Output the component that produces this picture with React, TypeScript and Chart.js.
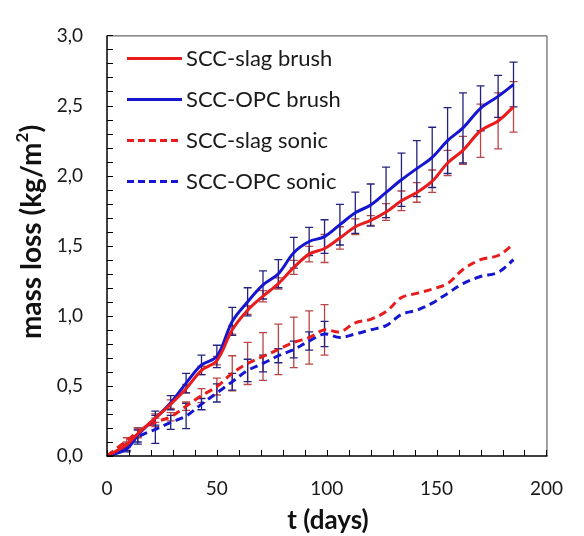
import React, { useEffect, useRef } from 'react';
import { Chart, registerables } from 'chart.js';

Chart.register(...registerables);

const FONT = 'Lato';

// ---- data ----
const days = [0, 9, 14, 22, 29, 36, 43, 50, 57, 64, 71, 78, 85, 92, 99, 106, 113, 120, 127, 134, 141, 148, 155, 162, 170, 178, 185];

const slagBrush = [0, 0.08, 0.16, 0.27, 0.37, 0.48, 0.61, 0.68, 0.9, 1.04, 1.14, 1.23, 1.345, 1.44, 1.48, 1.555, 1.635, 1.68, 1.74, 1.82, 1.88, 1.96, 2.09, 2.18, 2.32, 2.39, 2.49];
const opcBrush = [0, 0.05, 0.15, 0.27, 0.38, 0.52, 0.65, 0.71, 0.96, 1.1, 1.22, 1.3, 1.45, 1.53, 1.565, 1.65, 1.735, 1.79, 1.88, 1.97, 2.05, 2.13, 2.25, 2.34, 2.48, 2.565, 2.65];
const slagSonic = [0, 0.11, 0.17, 0.24, 0.28, 0.355, 0.43, 0.495, 0.59, 0.66, 0.71, 0.76, 0.81, 0.845, 0.9, 0.885, 0.95, 0.975, 1.03, 1.13, 1.16, 1.19, 1.23, 1.33, 1.4, 1.43, 1.51];
const opcSonic = [0, 0.06, 0.135, 0.19, 0.24, 0.285, 0.37, 0.45, 0.53, 0.61, 0.66, 0.715, 0.76, 0.82, 0.87, 0.845, 0.87, 0.9, 0.93, 1.01, 1.04, 1.09, 1.16, 1.23, 1.28, 1.31, 1.4];

const slagBrushErr = [null, 0.02, 0.03, 0.03, 0.03, 0.03, 0.03, 0.03, 0.03, 0.03, 0.04, 0.04, 0.05, 0.055, 0.1, 0.08, 0.056, 0.035, 0.06, 0.07, 0.07, 0.08, 0.09, 0.1, 0.19, 0.2, 0.18];
const opcBrushErr = [null, 0.02, 0.05, 0.05, 0.05, 0.07, 0.07, 0.08, 0.1, 0.1, 0.1, 0.1, 0.11, 0.1, 0.12, 0.145, 0.147, 0.15, 0.18, 0.19, 0.2, 0.215, 0.235, 0.25, 0.16, 0.15, 0.16];
const slagSonicErr = [null, 0.02, 0.03, 0.03, 0.03, 0.03, 0.05, 0.06, 0.125, 0.15, 0.17, 0.18, 0.18, 0.19, 0.18, null, null, null, null, null, null, null, null, null, null, null, null];
const opcSonicErr = [null, 0.02, 0.05, 0.1, 0.05, 0.09, 0.04, 0.065, 0.06, 0.08, 0.06, 0.05, 0.06, 0.065, 0.09, null, null, null, null, null, null, null, null, null, null, null, null];

const seriesLabels = ['SCC-slag brush', 'SCC-OPC brush', 'SCC-slag sonic', 'SCC-OPC sonic'];
const xTitle = 't (days)';
const yTitleMain = 'mass loss (kg/m';
const yTitleSup = '2';
const yTitleEnd = ')';

const RED = 'rgb(232,28,28)';
const BLUE = 'rgb(22,22,208)';
const RED_ERR = 'rgb(185,70,70)';
const BLUE_ERR = 'rgb(35,35,125)';

const toPoints = (vals: number[]) => days.map((d, i) => ({ x: d, y: vals[i] }));

const errorBarPlugin = {
  id: 'errorBars',
  beforeDatasetsDraw(chart: any) {
    const { ctx } = chart;
    const xs = chart.scales.x;
    const ys = chart.scales.y;
    chart.data.datasets.forEach((ds: any) => {
      const errs = ds.errors;
      if (!errs) return;
      ctx.save();
      ctx.strokeStyle = ds.errorColor;
      ctx.lineWidth = 1.3;
      ctx.setLineDash([]);
      ds.data.forEach((pt: any, j: number) => {
        const e = errs[j];
        if (e == null) return;
        const px = xs.getPixelForValue(pt.x);
        const y1 = ys.getPixelForValue(pt.y + e);
        const y2 = ys.getPixelForValue(pt.y - e);
        ctx.beginPath();
        ctx.moveTo(px, y1);
        ctx.lineTo(px, y2);
        ctx.moveTo(px - 4, y1);
        ctx.lineTo(px + 4, y1);
        ctx.moveTo(px - 4, y2);
        ctx.lineTo(px + 4, y2);
        ctx.stroke();
      });
      ctx.restore();
    });
  },
};

const framePlugin = {
  id: 'frame',
  afterDatasetsDraw(chart: any) {
    const { ctx, chartArea: a } = chart;
    const xs = chart.scales.x;
    const ys = chart.scales.y;
    ctx.save();
    ctx.setLineDash([]);
    ctx.strokeStyle = '#444';
    ctx.lineWidth = 1;
    ctx.beginPath();
    ctx.moveTo(a.left, a.top + 0.5);
    ctx.lineTo(a.right + 0.5, a.top + 0.5);
    ctx.lineTo(a.right + 0.5, a.bottom);
    ctx.stroke();
    ctx.strokeStyle = '#000';
    ctx.lineWidth = 1.5;
    ctx.beginPath();
    ctx.moveTo(a.left, a.top);
    ctx.lineTo(a.left, a.bottom);
    ctx.lineTo(a.right + 1, a.bottom);
    ctx.stroke();
    ctx.lineWidth = 1;
    ctx.beginPath();
    xs.ticks.forEach((t: any) => {
      const px = Math.round(xs.getPixelForValue(t.value)) + 0.5;
      ctx.moveTo(px, a.bottom);
      ctx.lineTo(px, a.bottom - 6);
    });
    ys.ticks.forEach((t: any) => {
      const py = Math.round(ys.getPixelForValue(t.value)) + 0.5;
      ctx.moveTo(a.left, py);
      ctx.lineTo(a.left + 6, py);
    });
    ctx.stroke();
    ctx.restore();
  },
};

const textPlugin = {
  id: 'texts',
  afterDraw(chart: any) {
    const { ctx, chartArea: a } = chart;
    ctx.save();
    chart.data.datasets.forEach((ds: any, i: number) => {
      const yy = a.top + 23 + i * 41;
      const x0 = a.left + 20;
      ctx.strokeStyle = ds.borderColor;
      ctx.lineWidth = 3;
      ctx.setLineDash(ds.borderDash && ds.borderDash.length ? [7, 4] : []);
      ctx.beginPath();
      ctx.moveTo(x0, yy);
      ctx.lineTo(x0 + 55, yy);
      ctx.stroke();
      ctx.setLineDash([]);
      ctx.fillStyle = '#1a1a1a';
      ctx.font = `22px ${FONT}`;
      ctx.textBaseline = 'middle';
      ctx.textAlign = 'left';
      ctx.fillText(ds.label, x0 + 59, yy + 1);
    });
    ctx.fillStyle = '#111';
    ctx.font = `bold 26px ${FONT}`;
    ctx.textAlign = 'center';
    ctx.textBaseline = 'middle';
    ctx.fillText(xTitle, 328, 521);
    ctx.translate(32, 232);
    ctx.rotate(-Math.PI / 2);
    const mainFont = `bold 28px ${FONT}`;
    const supFont = `bold 17px ${FONT}`;
    ctx.font = mainFont;
    const w1 = ctx.measureText(yTitleMain).width;
    const w3 = ctx.measureText(yTitleEnd).width;
    ctx.font = supFont;
    const w2 = ctx.measureText(yTitleSup).width;
    const total = w1 + w2 + w3;
    let cx = -total / 2;
    ctx.textAlign = 'left';
    ctx.font = mainFont;
    ctx.fillText(yTitleMain, cx, 0);
    cx += w1;
    ctx.font = supFont;
    ctx.fillText(yTitleSup, cx, -9);
    cx += w2;
    ctx.font = mainFont;
    ctx.fillText(yTitleEnd, cx, 0);
    ctx.restore();
  },
};

export default function App() {
  const ref = useRef<HTMLCanvasElement | null>(null);

  useEffect(() => {
    if (!ref.current) return;
    const mk = (label: string, vals: number[], errs: (number | null)[], color: string, errColor: string, dashed: boolean) => ({
      label,
      data: toPoints(vals),
      errors: errs,
      errorColor: errColor,
      borderColor: color,
      backgroundColor: color,
      borderWidth: 3,
      borderDash: dashed ? [8, 5] : [],
      pointRadius: 0,
      tension: 0.35,
      fill: false,
    });
    const chart = new Chart(ref.current, {
      type: 'line',
      data: {
        datasets: [
          mk(seriesLabels[0], slagBrush, slagBrushErr, RED, RED_ERR, false),
          mk(seriesLabels[1], opcBrush, opcBrushErr, BLUE, BLUE_ERR, false),
          mk(seriesLabels[2], slagSonic, slagSonicErr, RED, RED_ERR, true),
          mk(seriesLabels[3], opcSonic, opcSonicErr, BLUE, BLUE_ERR, true),
        ] as any,
      },
      options: {
        animation: false,
        responsive: false,
        maintainAspectRatio: false,
        layout: { padding: { top: 27, right: 20, left: 0, bottom: 0 } },
        plugins: { legend: { display: false }, tooltip: { enabled: false } },
        scales: {
          x: {
            type: 'linear',
            min: 0,
            max: 200,
            grid: { display: false, drawTicks: false },
            border: { display: false },
            ticks: {
              stepSize: 10,
              autoSkip: false,
              maxRotation: 0,
              padding: 21,
              color: '#1a1a1a',
              font: { family: FONT, size: 19 },
              callback: (v: any) => (Math.round(v) % 50 === 0 ? String(Math.round(v)) : ''),
            },
            afterFit: (s: any) => {
              s.height = 80;
            },
          },
          y: {
            min: 0,
            max: 3,
            grid: { display: false, drawTicks: false },
            border: { display: false },
            ticks: {
              stepSize: 0.1,
              autoSkip: false,
              padding: 24,
              color: '#1a1a1a',
              font: { family: FONT, size: 19 },
              callback: (v: any) => {
                const t = Math.round(v * 10);
                return t % 5 === 0 ? (t / 10).toFixed(1).replace('.', ',') : '';
              },
            },
            afterFit: (s: any) => {
              s.width = 107;
            },
          },
        },
      } as any,
      plugins: [errorBarPlugin, framePlugin, textPlugin],
    });
    return () => chart.destroy();
  }, []);

  return (
    <div style={{ position: 'fixed', left: 0, top: 0, width: 584, height: 536, background: '#fff' }}>
      <canvas ref={ref} width={584} height={536} style={{ display: 'block' }} />
    </div>
  );
}
